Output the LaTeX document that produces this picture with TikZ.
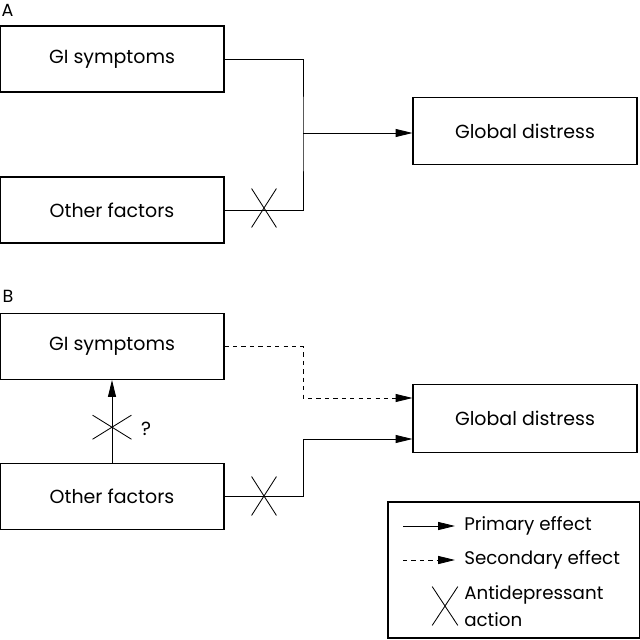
\documentclass[tikz,border=0pt]{standalone}
\usepackage{fontspec}
\setmainfont{Poppins}
\usetikzlibrary{arrows.meta,shapes.misc}
\tikzstyle{box}=[draw,line width=0.8pt,minimum width=5.6cm,minimum height=1.65cm,inner sep=0pt,font=\fontsize{13.5}{15}\selectfont]
\tikzstyle{goal}=[box,minimum height=1.69cm]
\tikzstyle{block}=[cross out,draw,line width=0.6pt,inner sep=0pt,minimum width=0.6cm,minimum height=0.95cm]
\tikzstyle{link}=[draw,line width=0.6pt,-]
\tikzstyle{effect}=[link,-{Triangle[length=0.42cm,width=0.2cm]}]

\begin{document}
\begin{tikzpicture}
    \useasboundingbox (0,0) rectangle (16,-16);
    \foreach \pos/\name/\text in {{(2.8,-1.475)/gsA/GI symptoms}, {(2.8,-5.25)/ofA/Other factors},
                                  {(2.8,-8.6625)/gsB/GI symptoms}, {(2.8,-12.4125)/ofB/Other factors}}
        \node[box] (\name) at \pos {\text};
    \foreach \pos/\name in {{(13.125,-3.275)/gdA}, {(13.125,-10.4625)/gdB}}
        \node[goal] (\name) at \pos {Global distress};
    \node[font=\fontsize{12.5}{14}\selectfont] (lblA) at (0.19,-0.26) {A};
    \node[font=\fontsize{12.5}{14}\selectfont] (lblB) at (0.2,-7.42) {B};

    % panel A
    \coordinate (jA) at (7.575,-3.325);
    \path[link] (gsA.east) -| (jA) |- (ofA.east);
    \path[effect] (jA) -- (jA -| gdA.west);
    \node[block] (xA) at (6.6,-5.2) {};

    % panel B
    \coordinate (jB1) at (7.575,-9.95);
    \coordinate (jB2) at (7.575,-10.975);
    \path[effect,dashed] (gsB.east) -| (jB1) -- (jB1 -| gdB.west);
    \path[effect] (ofB.east) -| (jB2) -- (jB2 -| gdB.west);
    \path[effect] (ofB.north) -- (gsB.south);
    \node[block] (xB) at (6.6,-12.4) {};
    \node[block,minimum width=0.95cm,minimum height=0.58cm] (xV) at (2.8,-10.68) {};
    \node[font=\fontsize{13.5}{15}\selectfont] (qV) at (3.65,-10.72) {?};

    % legend
    \node[draw,line width=0.8pt,minimum width=6.3cm,minimum height=3.4cm] (key) at (12.85,-14.25) {};
    \coordinate (k1) at (10.075,-13.15);
    \coordinate (k2) at (10.075,-14.0);
    \path[effect] (k1) -- ++(1.3,0);
    \path[effect,dashed] (k2) -- ++(1.3,0);
    \node[block,minimum width=0.62cm] (kx) at (11.125,-15.15) {};
    \foreach \y/\text in {-13.15/Primary effect, -14.0/Secondary effect}
        \node[anchor=west,inner sep=0pt,font=\fontsize{13}{15}\selectfont] at (11.6,\y) {\text};
    \node[anchor=west,inner sep=0pt,align=left,font=\fontsize{13}{19}\selectfont] (kt) at (11.6,-15.15) {Antidepressant\\action};
\end{tikzpicture}
\end{document}
